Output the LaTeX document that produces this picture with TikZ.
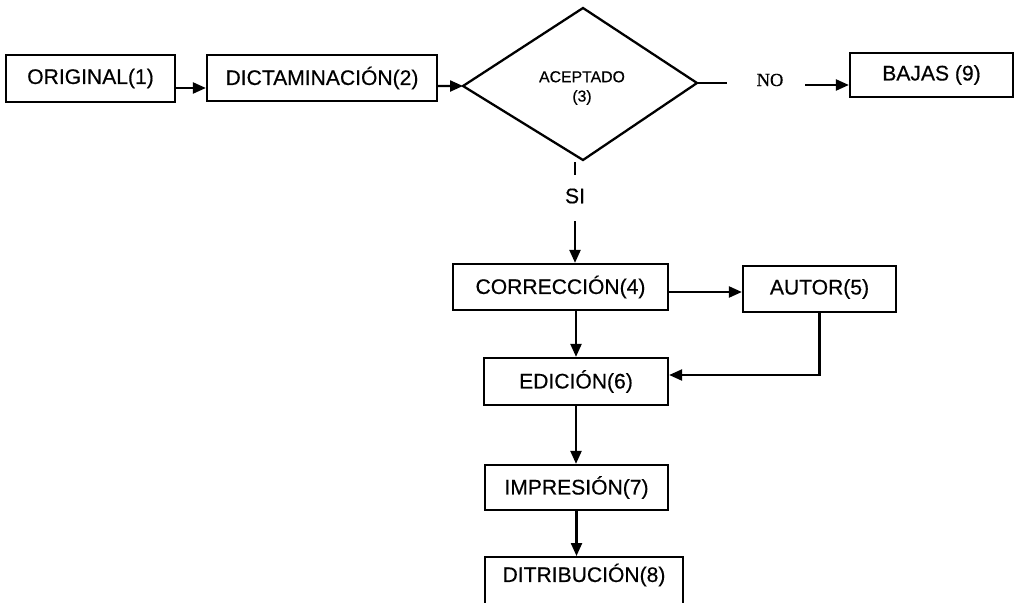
\documentclass[tikz,border=0pt]{standalone}
\usepackage{fontspec}
\setmainfont{Liberation Sans}[BoldFont={Liberation Sans},BoldFeatures={FakeBold=0.5}]
\newfontfamily\serifnf{Liberation Serif}[BoldFont={Liberation Serif},BoldFeatures={FakeBold=0.5}]
\usetikzlibrary{arrows.meta}
\begin{document}
\begin{tikzpicture}[x=0.02cm,y=-0.02cm,
  box/.style={draw,line width=1.3pt,inner sep=0pt,font=\bfseries\fontsize{12}{14}\selectfont},
  arr/.style={line width=1.3pt,-{Triangle[length=0.26cm,width=0.22cm]}},
  ln/.style={line width=1.3pt},
  lbl/.style={inner sep=0pt,font=\bfseries\fontsize{12}{14}\selectfont}]
\useasboundingbox (0,0) rectangle (1016,602);
\clip (0,0) rectangle (1016,602);
% boxes
\node[box,minimum width=3.38cm,minimum height=0.94cm] (orig) at (90.5,78.5) {ORIGINAL(1)};
\node[box,minimum width=4.6cm,minimum height=0.92cm] (dict) at (322,78) {DICTAMINACIÓN(2)};
\node[box,minimum width=3.26cm,minimum height=0.88cm] (bajas) at (931.5,75) {BAJAS (9)};
\node[box,minimum width=4.3cm,minimum height=0.92cm] (corr) at (560.5,287) {CORRECCIÓN(4)};
\node[box,minimum width=3.06cm,minimum height=0.92cm] (autor) at (819.5,289) {AUTOR(5)};
\node[box,minimum width=3.68cm,minimum height=0.94cm] (edic) at (576,381.5) {EDICIÓN(6)};
\node[box,minimum width=3.66cm,minimum height=0.9cm] (impr) at (576.5,487.5) {IMPRESIÓN(7)};
\node[box,minimum width=3.96cm,minimum height=1.2cm,anchor=north] (ditr) at (584,556) {};
\node[lbl] (ditrt) at (584,575) {DITRIBUCIÓN(8)};
% diamond
\coordinate (dl) at (463,86);
\coordinate (dt) at (583,8);
\coordinate (dr) at (697,83);
\coordinate (db) at (583,160);
\draw[ln,line join=miter] (dl) -- (dt) -- (dr) -- (db) -- cycle;
\node[inner sep=0pt,align=center,font=\bfseries\fontsize{9}{11}\selectfont] (acep) at (582,88) {ACEPTADO\\(3)};
% connectors
\draw[arr] ([yshift=-0.19cm]orig.east) -- ([yshift=-0.19cm]orig.east -| dict.west);
\draw[arr] ([yshift=-0.16cm]dict.east) -- (dl);
\coordinate (noa) at (727,83);
\draw[ln] (dr) -- (noa);
\node[inner sep=0pt,font=\serifnf\bfseries\fontsize{10.5}{12}\selectfont] (no) at (770,80) {NO};
\coordinate (nob) at (805,85);
\draw[arr] (nob) -- (nob -| bajas.west);
\coordinate (sia) at (575,162);
\coordinate (sib) at (575,175);
\draw[ln] (sia) -- (sib);
\node[lbl] (si) at (575,196) {SI};
\coordinate (sic) at (575,221);
\draw[arr] (sic) -- (sic |- corr.north);
\draw[arr] ([yshift=-0.1cm]corr.east) -- ([yshift=-0.1cm]corr.east -| autor.west);
\draw[arr] (edic.north |- corr.south) -- (edic.north);
\draw[arr] (autor.south) |- ([yshift=0.13cm]edic.east);
\draw[arr] (edic.south) -- (impr.north -| edic.south);
\draw[arr] (impr.south) -- (impr.south |- ditr.north);
\end{tikzpicture}
\end{document}
